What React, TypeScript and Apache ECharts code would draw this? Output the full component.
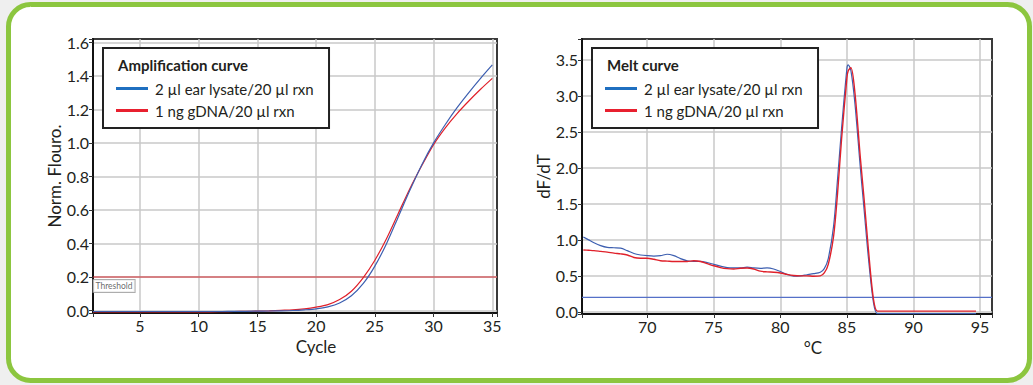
import React, { useEffect, useRef } from "react";
import * as echarts from "echarts";

const cycles = [1,2,3,4,5,6,7,8,9,10,11,12,13,14,15,16,17,18,19,20,21,22,23,24,25,26,27,28,29,30,31,32,33,34,35];
const ampLysate = [-0.006,-0.006,-0.006,-0.006,-0.006,-0.006,-0.006,-0.006,-0.006,-0.006,-0.006,-0.006,-0.005,-0.005,-0.004,-0.003,-0.002,0.0,0.004,0.010,0.022,0.045,0.088,0.160,0.265,0.400,0.560,0.720,0.870,1.000,1.110,1.210,1.300,1.385,1.465];
const ampGdna = [-0.008,-0.008,-0.008,-0.008,-0.008,-0.008,-0.008,-0.008,-0.008,-0.008,-0.008,-0.007,-0.006,-0.005,-0.004,-0.002,0.001,0.004,0.010,0.020,0.035,0.065,0.115,0.195,0.300,0.430,0.580,0.730,0.865,0.990,1.090,1.175,1.250,1.320,1.385];

const meltTemps = [65.2,65.6,66,66.5,67,67.5,68,68.5,69,69.5,70,70.5,71,71.5,72,72.5,73,73.5,74,74.5,75,75.5,76,76.5,77,77.5,78,78.5,79,79.5,80,80.5,81,81.5,82,82.5,83,83.3,83.6,84,84.3,84.6,85,85.1,85.3,85.6,86,86.3,86.6,87,87.3,88,90,92,94.7];
const meltLysate = [1.04,1.0,0.96,0.92,0.895,0.89,0.885,0.85,0.81,0.79,0.78,0.775,0.78,0.8,0.78,0.74,0.71,0.7,0.7,0.685,0.66,0.635,0.615,0.61,0.61,0.62,0.61,0.605,0.61,0.595,0.56,0.52,0.495,0.5,0.515,0.53,0.55,0.6,0.74,1.19,1.85,2.55,3.38,3.43,3.35,2.9,2.02,1.4,0.78,0.125,-0.025,-0.025,-0.025,-0.025,-0.025];
const meltGdna = [0.86,0.855,0.85,0.84,0.83,0.815,0.805,0.79,0.755,0.745,0.745,0.73,0.71,0.705,0.7,0.7,0.7,0.71,0.7,0.67,0.64,0.615,0.6,0.595,0.605,0.61,0.595,0.565,0.555,0.55,0.54,0.52,0.505,0.5,0.5,0.495,0.5,0.54,0.66,1.05,1.65,2.4,3.25,3.35,3.39,3.05,2.16,1.55,0.9,0.17,0.01,0.01,0.01,0.01,0.01];

const threshold = 0.2;
const ampRange = [1, 35.4];
const meltRange = [65.1, 95.9];
const seriesNames = ["2 µl ear lysate/20 µl rxn", "1 ng gDNA/20 µl rxn"];
const FONT = "Lato";
const TXT = "#231f20";
const AMP_THRESHOLD_COLOR = "#d42a30";
const MELT_THRESHOLD_COLOR = "#5570c8";

const pairs = (xs: number[], ys: number[]) => xs.map((x, i) => [x, ys[i]]);

const fmt = (step: number, digits: number) => (v: number) => {
  const r = v / step;
  return Math.abs(r - Math.round(r)) < 1e-6 ? v.toFixed(digits) : "";
};

export default function App() {
  const ref = useRef<HTMLDivElement>(null);
  useEffect(() => {
    if (!ref.current) return;
    const chart = echarts.init(ref.current, undefined, { renderer: "svg" });
    const axisCommon = {
      axisLine: { show: true, onZero: false, lineStyle: { color: "#111", width: 2 } },
      axisTick: { show: true, length: 4, lineStyle: { color: "#333", width: 1 } },
      splitLine: { show: true, showMinLine: false, showMaxLine: false, lineStyle: { color: "#c9c9c9", width: 1.5 } },
      axisLabel: { color: TXT, fontFamily: FONT, fontSize: 16, margin: 4 },
      nameTextStyle: { color: TXT, fontFamily: FONT, fontSize: 17 },
    };
    const legendCommon = {
      orient: "vertical",
      top: 48,
      padding: [33, 15, 10, 13],
      borderColor: "#222",
      borderWidth: 2,
      backgroundColor: "#fff",
      icon: "rect",
      itemWidth: 32,
      itemHeight: 3,
      itemGap: 7,
      textStyle: { color: TXT, fontFamily: FONT, fontSize: 15, padding: [0, 0, 0, 2] },
      data: [
        { name: seriesNames[0], itemStyle: { color: "#1f6fc0" } },
        { name: seriesNames[1], itemStyle: { color: "#e8202f" } },
      ],
      selectedMode: false,
    };
    const thresholdLine = (idx: number, range: number[], color: string, width: number) => ({
      name: idx === 0 ? "Threshold" : "Melt threshold",
      type: "line",
      xAxisIndex: idx,
      yAxisIndex: idx,
      data: [[range[0], threshold], [range[1], threshold]],
      showSymbol: false,
      silent: true,
      color,
      itemStyle: { color },
      lineStyle: { color, width },
      z: 3,
    });
    chart.setOption({
      animation: false,
      backgroundColor: "#efefef",
      graphic: [
        {
          type: "rect",
          z: -10,
          silent: true,
          shape: { x: 8.5, y: 4.5, width: 1021, height: 376, r: 22 },
          style: { fill: "#ffffff", stroke: "#8cc63f", lineWidth: 5 },
        },
        {
          type: "text",
          left: 118,
          top: 57,
          z: 100,
          style: { text: "Amplification curve", fill: TXT, font: `bold 15px ${FONT}` },
        },
        {
          type: "text",
          left: 607,
          top: 57,
          z: 100,
          style: { text: "Melt curve", fill: TXT, font: `bold 15px ${FONT}` },
        },
      ],
      legend: [
        { ...legendCommon, left: 103 },
        { ...legendCommon, left: 592 },
      ],
      grid: [
        { left: 93, top: 39, width: 404, height: 274, show: true, borderColor: "#3a3a3a", borderWidth: 2, backgroundColor: "transparent" },
        { left: 582, top: 39, width: 410, height: 275, show: true, borderColor: "#3a3a3a", borderWidth: 2, backgroundColor: "transparent" },
      ],
      xAxis: [
        {
          ...axisCommon,
          type: "value",
          gridIndex: 0,
          min: ampRange[0],
          max: ampRange[1],
          splitNumber: 7,
          name: "Cycle",
          nameLocation: "middle",
          nameGap: 22,
          nameTextStyle: { ...axisCommon.nameTextStyle, padding: [0, 0, 0, 42] },
          axisLabel: { ...axisCommon.axisLabel, formatter: fmt(5, 0) },
        },
        {
          ...axisCommon,
          type: "value",
          gridIndex: 1,
          min: meltRange[0],
          max: meltRange[1],
          splitNumber: 6,
          name: "°C",
          nameLocation: "middle",
          nameGap: 22,
          nameTextStyle: { ...axisCommon.nameTextStyle, padding: [0, 0, 0, 52] },
          axisLabel: { ...axisCommon.axisLabel, formatter: fmt(5, 0) },
        },
      ],
      yAxis: [
        {
          ...axisCommon,
          type: "value",
          gridIndex: 0,
          min: -0.015,
          max: 1.62,
          splitNumber: 8,
          name: "Norm. Flouro.",
          nameLocation: "middle",
          nameGap: 30,
          axisLabel: { ...axisCommon.axisLabel, formatter: fmt(0.2, 1) },
        },
        {
          ...axisCommon,
          type: "value",
          gridIndex: 1,
          min: -0.03,
          max: 3.79,
          splitNumber: 7,
          name: "dF/dT",
          nameLocation: "middle",
          nameGap: 29,
          axisLabel: { ...axisCommon.axisLabel, formatter: fmt(0.5, 1) },
        },
      ],
      series: [
        thresholdLine(0, ampRange, AMP_THRESHOLD_COLOR, 1.1),
        thresholdLine(1, meltRange, MELT_THRESHOLD_COLOR, 1.3),
        {
          name: "Threshold label",
          type: "scatter",
          xAxisIndex: 0,
          yAxisIndex: 0,
          silent: true,
          symbol: "rect",
          symbolSize: 1,
          itemStyle: { color: "rgba(255,255,255,0)" },
          data: [[ampRange[0], threshold]],
          z: 7,
          label: {
            show: true,
            position: "right",
            distance: 0,
            offset: [0, 9],
            formatter: "Threshold",
            fontFamily: FONT,
            fontSize: 8.5,
            color: "#444",
            backgroundColor: "#fff",
            borderColor: "#999",
            borderWidth: 1,
            padding: [2, 2, 1, 2],
          },
        },
        {
          name: seriesNames[0],
          type: "line",
          xAxisIndex: 0,
          yAxisIndex: 0,
          data: pairs(cycles, ampLysate),
          smooth: 0.3,
          showSymbol: false,
          color: "#3d5fb0",
          lineStyle: { width: 1.2, color: "#3d5fb0" },
          z: 5,
        },
        {
          name: seriesNames[1],
          type: "line",
          xAxisIndex: 0,
          yAxisIndex: 0,
          data: pairs(cycles, ampGdna),
          smooth: 0.3,
          showSymbol: false,
          color: "#e0202a",
          lineStyle: { width: 1.2, color: "#e0202a" },
          z: 4,
        },
        {
          name: seriesNames[0],
          type: "line",
          xAxisIndex: 1,
          yAxisIndex: 1,
          data: pairs(meltTemps, meltLysate),
          smooth: 0.3,
          showSymbol: false,
          color: "#3d5fb0",
          lineStyle: { width: 1.2, color: "#3d5fb0" },
          z: 4,
        },
        {
          name: seriesNames[1],
          type: "line",
          xAxisIndex: 1,
          yAxisIndex: 1,
          data: pairs(meltTemps, meltGdna),
          smooth: 0.3,
          showSymbol: false,
          color: "#e0202a",
          lineStyle: { width: 1.4, color: "#e0202a" },
          z: 5,
        },
      ],
    });
    return () => chart.dispose();
  }, []);
  return <div ref={ref} style={{ position: "fixed", left: 0, top: 0, width: 1033, height: 385 }} />;
}
